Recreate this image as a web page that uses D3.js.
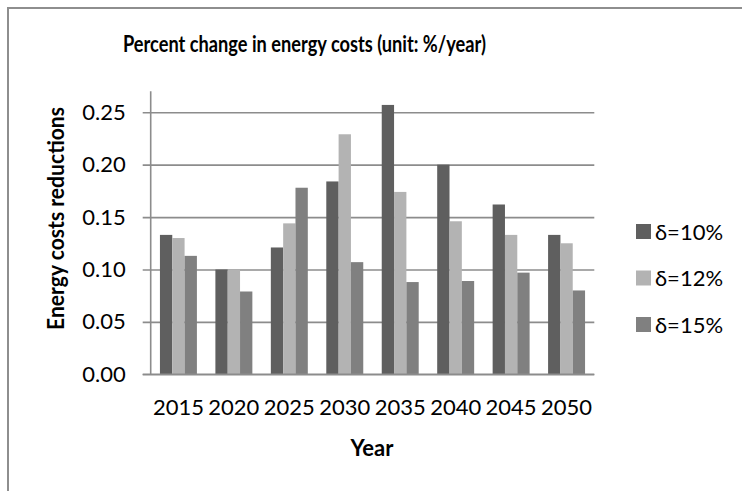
<!DOCTYPE html>
<html>
<head>
<meta charset="utf-8">
<script src="https://cdn.jsdelivr.net/npm/d3@7"></script>
<style>
  body { margin: 0; background: #fff; }
  text { font-family: Lato, "Open Sans", sans-serif; fill: #000; }
</style>
</head>
<body>
<div id="chart"></div>
<script>
// chart data
const years = ["2015", "2020", "2025", "2030", "2035", "2040", "2045", "2050"];
const seriesNames = ["δ=10%", "δ=12%", "δ=15%"];
const delta10 = [0.133, 0.100, 0.121, 0.184, 0.257, 0.200, 0.162, 0.133];
const delta12 = [0.130, 0.100, 0.144, 0.229, 0.174, 0.146, 0.133, 0.125];
const delta15 = [0.113, 0.079, 0.178, 0.107, 0.088, 0.089, 0.097, 0.080];
const yTicks = [0, 0.05, 0.10, 0.15, 0.20, 0.25];

const width = 742;
const height = 491;

// plot area
const plotLeft = 150.7, plotRight = 594.3, plotTop = 91.3, plotBottom = 374.3;

const colours = ["#5f5f5f", "#b3b3b3", "#808080"];
const seriesValues = [delta10, delta12, delta15];

const svg = d3.select("#chart")
  .append("svg")
  .attr("width", width)
  .attr("height", height);

// outer frame, its right and bottom edges sit off the picture
svg.append("rect")
  .attr("x", 8).attr("y", 8)
  .attr("width", 900).attr("height", 700)
  .attr("fill", "#fff")
  .attr("stroke", "#8e8e8e")
  .attr("stroke-width", 2);

const x = d3.scaleBand()
  .domain(years)
  .range([plotLeft, plotRight])
  .paddingInner(1 / 3)
  .paddingOuter(1 / 6);

const xInner = d3.scaleBand()
  .domain(d3.range(seriesNames.length))
  .range([0, x.bandwidth()]);

const y = d3.scaleLinear()
  .domain([0, 0.27])
  .range([plotBottom, plotTop]);

// gridlines with the small outward tick
const grid = svg.append("g")
  .attr("transform", `translate(${plotLeft},0)`)
  .call(d3.axisLeft(y)
    .tickValues(yTicks)
    .tickSizeInner(-(plotRight - plotLeft))
    .tickSizeOuter(0)
    .tickFormat(""));
grid.select(".domain").remove();
grid.selectAll(".tick line")
  .attr("x1", -8)
  .attr("stroke", "#8c8c8c")
  .attr("stroke-width", 1.6);

// y tick labels
const yAxis = svg.append("g")
  .attr("transform", `translate(${plotLeft},0)`)
  .call(d3.axisLeft(y)
    .tickValues(yTicks)
    .tickSize(8)
    .tickPadding(17)
    .tickFormat(d3.format(".2f")));
yAxis.select(".domain").remove();
yAxis.selectAll(".tick line").remove();
yAxis.selectAll("text")
  .style("font-size", "22px")
  .attr("fill", "#000");

// bars
const groups = svg.append("g")
  .selectAll("g")
  .data(years)
  .enter()
  .append("g")
  .attr("transform", d => `translate(${x(d)},0)`);

groups.selectAll("rect")
  .data((d, i) => seriesValues.map((vals, s) => ({ s: s, v: vals[i] })))
  .enter()
  .append("rect")
  .attr("x", d => xInner(d.s))
  .attr("width", xInner.bandwidth())
  .attr("y", d => y(d.v))
  .attr("height", d => y(0) - y(d.v))
  .attr("fill", d => colours[d.s]);

// axis lines
svg.append("line")
  .attr("x1", plotLeft).attr("x2", plotLeft)
  .attr("y1", plotTop).attr("y2", plotBottom)
  .attr("stroke", "#8c8c8c")
  .attr("stroke-width", 1.6);

svg.append("line")
  .attr("x1", plotLeft - 8).attr("x2", plotRight)
  .attr("y1", y(0)).attr("y2", y(0))
  .attr("stroke", "#8c8c8c")
  .attr("stroke-width", 1.6);

// x labels
svg.append("g")
  .selectAll("text")
  .data(years)
  .enter()
  .append("text")
  .attr("x", d => x(d) + x.bandwidth() / 2)
  .attr("y", 415)
  .attr("text-anchor", "middle")
  .style("font-size", "22px")
  .text(d => d);

// title and axis titles
svg.append("text")
  .attr("x", 304.5)
  .attr("y", 52)
  .attr("text-anchor", "middle")
  .style("font-size", "22px")
  .style("font-weight", "bold")
  .attr("textLength", 363)
  .attr("lengthAdjust", "spacingAndGlyphs")
  .text("Percent change in energy costs (unit: %/year)");

svg.append("text")
  .attr("x", 372)
  .attr("y", 456)
  .attr("text-anchor", "middle")
  .style("font-size", "22px")
  .style("font-weight", "bold")
  .text("Year");

svg.append("text")
  .attr("transform", "translate(64,218.5) rotate(-90)")
  .attr("text-anchor", "middle")
  .style("font-size", "23px")
  .style("font-weight", "bold")
  .attr("textLength", 223)
  .attr("lengthAdjust", "spacingAndGlyphs")
  .text("Energy costs reductions");

// legend
const legend = svg.append("g")
  .selectAll("g")
  .data(seriesNames)
  .enter()
  .append("g")
  .attr("transform", (d, i) => `translate(636,${231.5 + i * 46.5})`);

legend.append("rect")
  .attr("x", 0).attr("y", -7.5)
  .attr("width", 15).attr("height", 15)
  .attr("fill", (d, i) => colours[i]);

legend.append("text")
  .attr("x", 19)
  .attr("y", 8)
  .style("font-size", "22px")
  .text(d => d);
</script>
</body>
</html>
